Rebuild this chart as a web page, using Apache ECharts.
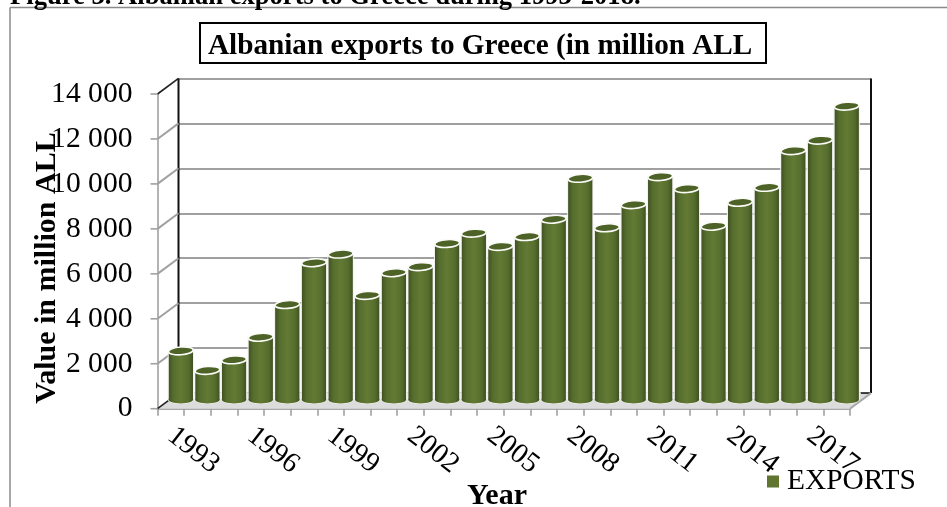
<!DOCTYPE html>
<html><head><meta charset="utf-8">
<style>html,body{margin:0;padding:0;background:#fff}#c{width:947px;height:507px}</style>
<script src="https://cdn.jsdelivr.net/npm/echarts@6/dist/echarts.min.js"></script>
</head><body><div id="c"></div>
<script>
const years = ['1993','1994','1995','1996','1997','1998','1999','2000','2001','2002','2003','2004','2005','2006','2007','2008','2009','2010','2011','2012','2013','2014','2015','2016','2017','2018'];
const exportsValues = [2165,1295,1765,2770,4225,6085,6470,4630,5640,5910,6940,7400,6810,7250,8020,9840,7640,8670,9915,9380,7710,8775,9440,11070,11540,13050];
const yTicks = [0,2000,4000,6000,8000,10000,12000,14000];

const F = {left:157.5, top:94, width:692.5, height:314.7};
const DX = 21, DY = -15.6;
const serif = '"Liberation Serif","Times New Roman",serif';
const GRID_GRAY = '#a0a0a0';
const bodyGrad = {type:'linear',x:0,y:0,x2:1,y2:0,colorStops:[
  {offset:0,color:'#3f5023'},{offset:.2,color:'#566e2d'},{offset:.5,color:'#627a33'},{offset:.8,color:'#566e2d'},{offset:1,color:'#3f5023'}]};

function cylinder(params, api){
  const c = api.coord([api.value(0), api.value(1)]);
  const base = api.coord([api.value(0), 0]);
  const w = api.size([1,0])[0]*0.93, rx = w/2, ry = 3.9;
  const x = c[0]-rx;
  const tilt = 0.07;
  return {type:'group',children:[
    {type:'ellipse',shape:{cx:c[0],cy:base[1],rx:rx+0.8,ry:ry+0.6},style:{fill:'#eef0ea'}},
    {type:'ellipse',shape:{cx:c[0],cy:base[1],rx:rx,ry:ry},style:{fill:bodyGrad}},
    {type:'rect',shape:{x:x,y:c[1],width:w,height:base[1]-c[1]},style:{fill:bodyGrad}},
    {type:'line',shape:{x1:x-0.3,y1:c[1],x2:x-0.3,y2:base[1]},style:{stroke:'#f2f2f0',lineWidth:1}},
    {type:'line',shape:{x1:x+w+0.3,y1:c[1],x2:x+w+0.3,y2:base[1]},style:{stroke:'#f2f2f0',lineWidth:1}},
    {type:'ellipse',shape:{cx:c[0],cy:c[1],rx:rx,ry:ry},originX:c[0],originY:c[1],rotation:tilt,
      style:{fill:'#4d6226',stroke:'#fbfbf8',lineWidth:1.6}}
  ]};
}
function depthLine(params, api){
  const v = api.value(1);
  const c = api.coord([0, v]);
  const x0 = c[0]-api.size([1,0])[0]/2;
  const dark = v===14000 || v===0;
  return {type:'group',children:[
    {type:'line',shape:{x1:x0,y1:c[1],x2:x0+DX,y2:c[1]+DY},style:{stroke:dark?'#222':GRID_GRAY,lineWidth:dark?1.6:2}},
    {type:'line',shape:{x1:x0-7,y1:c[1],x2:x0,y2:c[1]},style:{stroke:GRID_GRAY,lineWidth:1.6}}
  ]};
}
const R = F.left+F.width, B = F.top+F.height;
const option = {
  animation:false,
  backgroundColor:'#fff',
  title:[
    {text:'Figure 3. Albanian exports to Greece during 1993-2018.',left:10,top:-16,padding:0,textStyle:{fontFamily:serif,fontWeight:'bold',fontSize:26.6,color:'#000'}},
    {text:'Albanian exports to Greece (in million ALL',left:200,top:23,padding:[9,14,3,8],borderColor:'#000',borderWidth:2,textStyle:{fontFamily:serif,fontWeight:'bold',fontSize:29.2,color:'#000',lineHeight:28}},
    {text:'Year',left:492,top:476,textAlign:'center',textStyle:{fontFamily:serif,fontWeight:'bold',fontSize:30,color:'#000'}}
  ],
  legend:{show:true,left:762,top:462,itemWidth:12,itemHeight:12,itemGap:8,icon:'rect',data:['EXPORTS'],textStyle:{fontFamily:serif,fontSize:29.4,color:'#000',padding:[0,0,0,3]}},
  grid:[
    {left:F.left,top:F.top,width:F.width,height:F.height},
    {left:F.left+DX,top:F.top+DY,width:F.width,height:F.height},
    {left:F.left+10,top:F.top+DY/2-1.4,width:F.width,height:F.height}
  ],
  xAxis:[
    {gridIndex:0,type:'category',data:years,boundaryGap:true,
     axisLine:{lineStyle:{color:'#a8a8a8',width:2}},
     axisTick:{show:true,interval:0,length:7,lineStyle:{color:GRID_GRAY,width:1.6}},
     axisLabel:{interval:2,rotate:-38,align:'left',margin:24,fontFamily:serif,fontSize:28.5,color:'#000'}},
    {gridIndex:1,type:'category',data:years,show:false},
    {gridIndex:2,type:'category',data:years,show:false}
  ],
  yAxis:[
    {gridIndex:0,type:'value',min:0,max:14000,interval:2000,
     axisLine:{show:true,lineStyle:{color:GRID_GRAY,width:1.6}},axisTick:{show:false},splitLine:{show:false},
     axisLabel:{margin:25,fontFamily:serif,fontSize:29.6,color:'#000',formatter:v=>String(v).replace(/\B(?=(\d{3})+$)/g,' ')}},
    {gridIndex:1,type:'value',min:0,max:14000,interval:2000,
     axisLine:{show:false},axisTick:{show:false},axisLabel:{show:false},
     splitLine:{show:true,lineStyle:{color:GRID_GRAY,width:2}}},
    {gridIndex:2,type:'value',min:0,max:14000,interval:2000,show:false,splitLine:{show:false}}
  ],
  graphic:[
    {type:'line',z:0,shape:{x1:10,y1:507,x2:10,y2:7.5},style:{stroke:'#8a8a8a',lineWidth:1.5}},
    {type:'line',z:0,shape:{x1:10,y1:7.5,x2:947,y2:7.5},style:{stroke:'#8a8a8a',lineWidth:1.5}},
    {type:'polygon',z:1,shape:{points:[[F.left,B],[R,B],[R+DX,B+DY],[F.left+DX,B+DY]]},style:{fill:'#dcdcdc'}},
    {type:'line',z:1,shape:{x1:F.left+DX,y1:F.top+DY,x2:F.left+DX,y2:B+DY},style:{stroke:'#111',lineWidth:2}},
    {type:'line',z:1,shape:{x1:R+DX,y1:F.top+DY,x2:R+DX,y2:B+DY},style:{stroke:'#111',lineWidth:2}},
    {type:'line',z:1,shape:{x1:R+DX-10,y1:B+DY,x2:R+DX,y2:B+DY},style:{stroke:'#222',lineWidth:1.6}},
    {type:'line',z:1,shape:{x1:R,y1:B,x2:R+DX,y2:B+DY},style:{stroke:'#a8a8a8',lineWidth:2}},
    {type:'text',z:5,x:47,y:268,rotation:Math.PI/2,style:{text:'Value in million ALL',fontFamily:serif,fontWeight:'bold',fontSize:30,fill:'#000',align:'center',verticalAlign:'middle'}}
  ],
  series:[
    {type:'custom',name:'depth',xAxisIndex:0,yAxisIndex:0,z:2,silent:true,encode:{x:0,y:1},
     data:yTicks.map(v=>['1993',v]),renderItem:depthLine},
    {type:'custom',name:'EXPORTS',xAxisIndex:2,yAxisIndex:2,z:4,encode:{x:0,y:1},itemStyle:{color:'#5f7530'},
     data:years.map((y,i)=>[y,exportsValues[i]]),renderItem:cylinder}
  ]
};
const chart = echarts.init(document.getElementById('c'),null,{renderer:'canvas'});
chart.setOption(option);
</script></body></html>
